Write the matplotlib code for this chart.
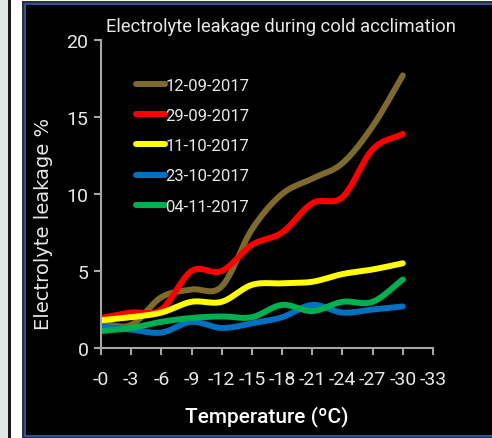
import numpy as np
import matplotlib
matplotlib.use("Agg")
import matplotlib.pyplot as plt
from matplotlib.patches import Rectangle

plt.rcParams['font.family'] = ['Roboto', 'DejaVu Sans']

temps = [0, -3, -6, -9, -12, -15, -18, -21, -24, -27, -30]
tick_vals = [0, -3, -6, -9, -12, -15, -18, -21, -24, -27, -30, -33]
tick_labels = ['-0', '-3', '-6', '-9', '-12', '-15', '-18', '-21', '-24', '-27', '-30', '-33']
series_names = ['12-09-2017', '29-09-2017', '11-10-2017', '23-10-2017', '04-11-2017']
s_1209 = [1.6, 1.5, 3.3, 3.8, 4.0, 7.7, 10.0, 11.0, 12.0, 14.4, 17.7]
s_2909 = [1.95, 2.3, 2.5, 5.0, 5.0, 6.7, 7.5, 9.4, 9.8, 12.9, 13.9]
s_1110 = [1.8, 2.0, 2.3, 3.0, 3.0, 4.1, 4.2, 4.3, 4.8, 5.1, 5.5]
s_2310 = [1.4, 1.2, 1.0, 1.7, 1.3, 1.6, 2.0, 2.8, 2.3, 2.5, 2.7]
s_0411 = [1.1, 1.3, 1.7, 1.95, 2.05, 2.0, 2.8, 2.4, 3.0, 3.0, 4.45]
colors = ['#7f6a2e', '#ff0000', '#ffff00', '#0070c0', '#00b050']
series = [s_1209, s_2909, s_1110, s_2310, s_0411]


def smooth(x, y, n=20):
    x = np.asarray(x, float)
    y = np.asarray(y, float)
    px = np.concatenate([[2 * x[0] - x[1]], x, [2 * x[-1] - x[-2]]])
    py = np.concatenate([[2 * y[0] - y[1]], y, [2 * y[-1] - y[-2]]])
    xs, ys = [], []
    t = np.linspace(0, 1, n, endpoint=False)
    for i in range(1, len(px) - 2):
        for P, out in ((px, xs), (py, ys)):
            p0, p1, p2, p3 = P[i - 1], P[i], P[i + 1], P[i + 2]
            m1 = (p2 - p0) / 2
            m2 = (p3 - p1) / 2
            h00 = 2 * t**3 - 3 * t**2 + 1
            h10 = t**3 - 2 * t**2 + t
            h01 = -2 * t**3 + 3 * t**2
            h11 = t**3 - t**2
            out.extend(h00 * p1 + h10 * m1 + h01 * p2 + h11 * m2)
    xs.append(x[-1])
    ys.append(y[-1])
    return np.array(xs), np.array(ys)


W, H = 492, 439
fig = plt.figure(figsize=(W / 100, H / 100), dpi=100)
fig.patch.set_facecolor('white')


def frame_rect(x0, y0, w, h, c):
    fig.patches.append(Rectangle((x0 / W, y0 / H), w / W, h / H, transform=fig.transFigure,
                                 facecolor=c, edgecolor='none', zorder=-10))


# left strip and frame (pixel units, origin bottom-left)
frame_rect(0, 0, 8, H, '#e2e6e2')
frame_rect(8, 0, 2.5, H, '#1a1a1a')
frame_rect(22, 0, W - 22, H - 1.5, '#303030')
frame_rect(24, 1, W - 24, H - 4.5, '#3050a0')
frame_rect(26, 3, W - 26, H - 9, 'black')

left = 101 / W
right = 433 / W
bottom = (H - 349) / H
top = (H - 41) / H
ax = fig.add_axes([left, bottom, right - left, top - bottom])
ax.set_facecolor('none')
ax.set_zorder(5)

for name, vals, c in zip(series_names, series, colors):
    xs, ys = smooth(temps, vals)
    ax.plot(xs, ys, color=c, lw=4.3, solid_capstyle='round', label=name)

ax.set_xlim(0, -33)
ax.set_ylim(0, 20)
ax.set_xticks(tick_vals)
ax.set_xticklabels(tick_labels)
ax.set_yticks([0, 5, 10, 15, 20])

for s in ['top', 'right']:
    ax.spines[s].set_visible(False)
for s in ['left', 'bottom']:
    ax.spines[s].set_color('#a6a6a6')
    ax.spines[s].set_linewidth(1.5)
ax.tick_params(axis='both', colors='#a6a6a6', length=5, width=1.5, labelcolor='#e8e8e8', labelsize=14)
ax.tick_params(axis='x', pad=11)
ax.tick_params(axis='y', pad=4)

ax.set_xlabel('Temperature (ºC)', color='white', fontsize=15, fontweight='medium', labelpad=12)
ax.set_ylabel('Electrolyte leakage %', color='#e8e8e8', fontsize=14, family=['DejaVu Sans'])
ax.yaxis.set_label_coords(-0.145, 0.406)
fig.text(281 / W, 1 - 27 / H, 'Electrolyte leakage during cold acclimation', color='#e8e8e8',
         fontsize=13.2, ha='center', va='center')

leg = ax.legend(loc='upper left', bbox_to_anchor=(0.106, 0.877), frameon=False, handlelength=1.75,
                handletextpad=0.0, labelspacing=0.91, fontsize=12, borderaxespad=0, borderpad=0)
for t in leg.get_texts():
    t.set_color('#e8e8e8')

fig.savefig('out.png', dpi=100, facecolor=fig.get_facecolor())
